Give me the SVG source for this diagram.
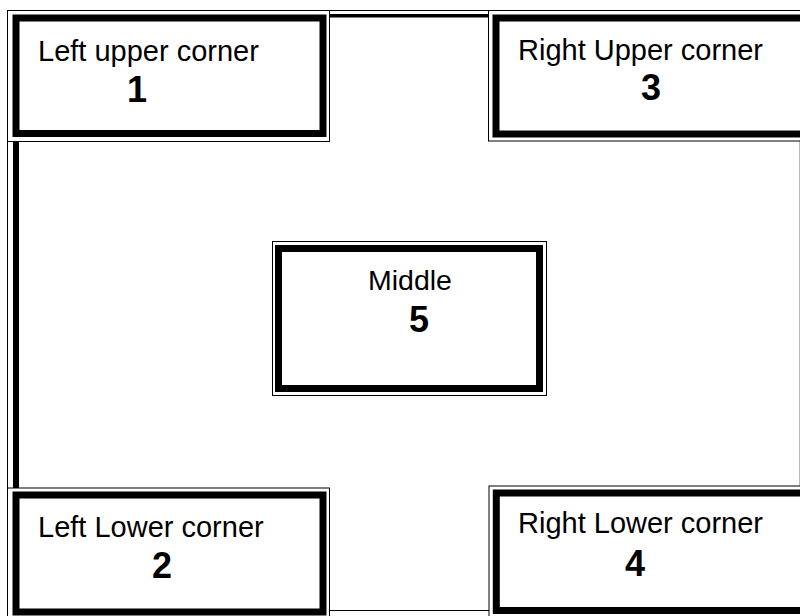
<svg xmlns="http://www.w3.org/2000/svg" width="800" height="616" viewBox="0 0 800 616">
<style>
.thin{fill:#fff;stroke:#000;stroke-width:1}
.thick{fill:none;stroke:#000;stroke-width:7}
.lbl{font-family:"Liberation Sans",Arial,sans-serif;font-size:29px;fill:#000}
.num{font-family:"Liberation Sans",Arial,sans-serif;font-size:36px;font-weight:bold;fill:#000}
.fr{fill:none;stroke:#000}
</style>
<rect width="800" height="616" fill="#fff"/>
<g id="frame">
<path class="fr" stroke-width="1" d="M7.5,616 V10.5 H800"/>
<path class="fr" stroke-width="3.5" d="M12,15.75 H800"/>
<path class="fr" stroke-width="6" d="M16,14 V616"/>
<path class="fr" stroke-width="1" d="M7.5,610.5 H800"/>
<path fill="none" stroke="#bbb" stroke-width="1" d="M799.5,10 V616"/>
</g>
<g id="connectors"></g>
<g id="node1">
<rect class="thin" x="7.5" y="10.5" width="322" height="131"/>
<rect class="thick" x="16" y="18" width="307" height="115.5"/>
<text class="lbl" x="38" y="60.5">Left upper corner</text>
<text class="num" x="127" y="101.5">1</text>
</g>
<g id="node3">
<rect class="thin" x="488.5" y="10.5" width="320" height="130.5"/>
<rect class="thick" x="496" y="18" width="320" height="116"/>
<text class="lbl" x="518" y="60">Right Upper corner</text>
<text class="num" x="641" y="100">3</text>
</g>
<g id="node5">
<rect class="thin" x="272.5" y="241.5" width="274" height="154"/>
<rect class="thick" x="278.5" y="248.5" width="261" height="140"/>
<text class="lbl" x="368" y="290" style="font-size:28.5px">Middle</text>
<text class="num" x="409" y="331.5">5</text>
</g>
<g id="node2">
<rect class="thin" x="7.5" y="488" width="322" height="131.5"/>
<rect class="thick" x="16" y="495" width="307" height="117"/>
<text class="lbl" x="38" y="536.5">Left Lower corner</text>
<text class="num" x="152" y="578">2</text>
</g>
<g id="node4">
<rect class="thin" x="489" y="486" width="320" height="140"/>
<rect class="thick" x="496.3" y="493" width="320" height="117.5"/>
<text class="lbl" x="518" y="533">Right Lower corner</text>
<text class="num" x="625" y="576">4</text>
</g>
</svg>
